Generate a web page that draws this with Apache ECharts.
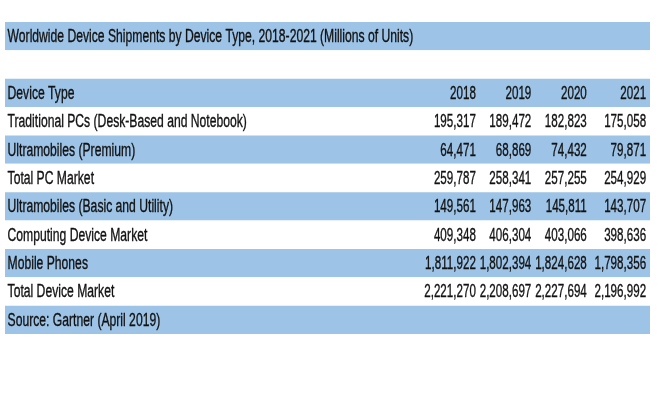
<!DOCTYPE html>
<html>
<head>
<meta charset="utf-8">
<title>Worldwide Device Shipments</title>
<script src="https://cdn.jsdelivr.net/npm/echarts@6/dist/echarts.min.js"></script>
<style>
  html, body { margin: 0; padding: 0; background: #fff; }
  #main { width: 659px; height: 400px; }
</style>
</head>
<body>
<div id="main"></div>
<script>
// table content
const title = "Worldwide Device Shipments by Device Type, 2018-2021 (Millions of Units)";
const headerLabel = "Device Type";
const years = ["2018", "2019", "2020", "2021"];
const deviceTypes = [
  "Traditional PCs (Desk-Based and Notebook)",
  "Ultramobiles (Premium)",
  "Total PC Market",
  "Ultramobiles (Basic and Utility)",
  "Computing Device Market",
  "Mobile Phones",
  "Total Device Market"
];
const traditionalPCs = [195317, 189472, 182823, 175058];
const ultramobilesPremium = [64471, 68869, 74432, 79871];
const totalPC = [259787, 258341, 257255, 254929];
const ultramobilesBasic = [149561, 147963, 145811, 143707];
const computingDevice = [409348, 406304, 403066, 398636];
const mobilePhones = [1811922, 1802394, 1824628, 1798356];
const totalDevice = [2221270, 2208697, 2227694, 2196992];
const source = "Source: Gartner (April 2019)";

const valueRows = [traditionalPCs, ultramobilesPremium, totalPC, ultramobilesBasic,
  computingDevice, mobilePhones, totalDevice];

// rows of the sheet, top to bottom
const rowKeys = ["title", "gap", "header"].concat(deviceTypes.map((d, i) => "r" + i), ["source"]);

const blue = "#9dc3e6";
// column anchors as % of table width: label left edge, then year right edges
const colAnchor = [0.4, 73.0, 81.6, 90.2, 99.4];

const fmt = v => v.toLocaleString("en-US");

// text cells: [col, row, text]
const cells = [];
cells.push([0, 0, title]);
cells.push([0, 2, headerLabel]);
years.forEach((y, j) => cells.push([j + 1, 2, y]));
deviceTypes.forEach((d, i) => {
  cells.push([0, i + 3, d]);
  valueRows[i].forEach((v, j) => cells.push([j + 1, i + 3, fmt(v)]));
});
cells.push([0, rowKeys.length - 1, source]);

const chart = echarts.init(document.getElementById("main"), null, { renderer: "canvas" });

chart.setOption({
  animation: false,
  grid: { left: 5, right: 9, top: 22, bottom: 66 },
  xAxis: { type: "value", min: 0, max: 100, show: false },
  yAxis: { type: "category", data: rowKeys, inverse: true, show: false },
  series: [
    {
      // row bands, alternating blue / white
      type: "bar",
      barCategoryGap: 0,
      silent: true,
      data: rowKeys.map((k, i) => ({
        value: 100,
        itemStyle: { color: i % 2 === 0 ? blue : "#ffffff" }
      }))
    },
    {
      type: "custom",
      silent: true,
      z: 10,
      clip: false,
      encode: { x: 0, y: 1 },
      data: cells.map(c => [c[0], c[1]]),
      renderItem: function (params, api) {
        const col = api.value(0);
        const row = api.value(1);
        const pt = api.coord([colAnchor[col], row]);
        return {
          type: "text",
          x: pt[0],
          y: pt[1] + 1,
          // squeeze the glyphs to get the narrow spreadsheet look
          scaleX: col === 0 ? 0.675 : 0.645,
          style: {
            text: cells[params.dataIndex][2],
            fill: "#111111",
            stroke: "#111111",
            lineWidth: 0.35,
            font: '18px "Liberation Sans", Arial, sans-serif',
            align: col === 0 ? "left" : "right",
            verticalAlign: "middle"
          }
        };
      }
    }
  ]
});
</script>
</body>
</html>
